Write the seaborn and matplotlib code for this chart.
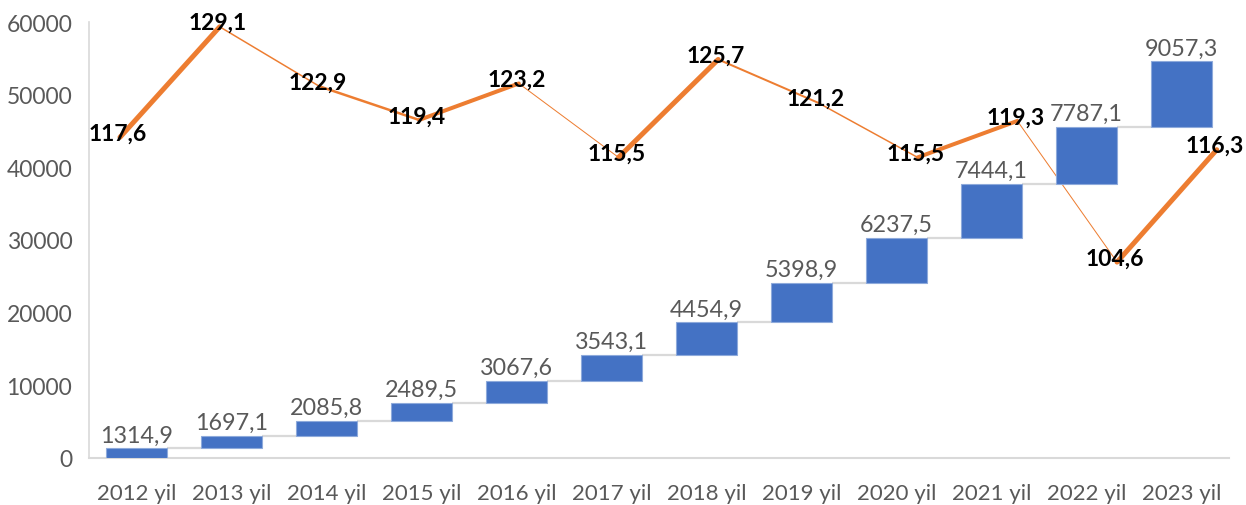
import matplotlib
matplotlib.use("Agg")
import matplotlib.pyplot as plt
import numpy as np
import seaborn as sns

# data
years = ["2012 yil", "2013 yil", "2014 yil", "2015 yil", "2016 yil", "2017 yil",
         "2018 yil", "2019 yil", "2020 yil", "2021 yil", "2022 yil", "2023 yil"]
increments = [1314.9, 1697.1, 2085.8, 2489.5, 3067.6, 3543.1,
              4454.9, 5398.9, 6237.5, 7444.1, 7787.1, 9057.3]
index_vals = [117.6, 129.1, 122.9, 119.4, 123.2, 115.5,
              125.7, 121.2, 115.5, 119.3, 104.6, 116.3]

sns.set_theme(style="white")
plt.rcParams["font.family"] = ["Lato", "DejaVu Sans"]

BLUE = "#4472C4"
ORANGE = "#ED7D31"
GREY = "#595959"

fig = plt.figure(figsize=(12.46, 5.06), dpi=100)
rect = [89 / 1246, 47 / 506, 1140 / 1246, 436 / 506]

# line sits on its own (hidden) secondary axes, behind the bars
ax2 = fig.add_axes(rect, frameon=False)
ax = fig.add_axes(rect)
ax.set_zorder(2)
ax2.set_zorder(1)
ax.patch.set_visible(False)

# waterfall bars
cum = np.cumsum(increments)
bottoms = cum - np.array(increments)
xs = np.arange(len(years))
bw = 0.65
ax.bar(xs, increments, bottom=bottoms, width=bw, color=BLUE,
       edgecolor="#8EAADB", linewidth=0.8, zorder=3)
# connectors
ax.hlines(cum[:-1], xs[:-1] + bw / 2, xs[1:] - bw / 2, color="#D9D9D9",
          linewidth=1.6, zorder=2)
for x, top, v in zip(xs, cum, increments):
    ax.annotate(f"{v:.1f}".replace(".", ","), (x, top), xytext=(0, 5),
                textcoords="offset points", ha="center", va="baseline",
                fontsize=16.8, color=GREY, zorder=4)

ax.set_xlim(-0.5, len(years) - 0.5)
ax.set_ylim(0, 60000)
ax.set_yticks(range(0, 60001, 10000))
ax.set_xticks(xs)
ax.set_xticklabels(years)
ax.tick_params(axis="x", length=0, pad=18, labelsize=16, labelcolor=GREY)
ax.tick_params(axis="y", length=0, pad=12, labelsize=16.5, labelcolor=GREY)
for side in ["top", "right"]:
    ax.spines[side].set_visible(False)
ax.spines["left"].set_color("#D9D9D9")
ax.spines["bottom"].set_color("#D9D9D9")
ax.spines["left"].set_linewidth(1.2)
ax.spines["bottom"].set_linewidth(1.5)
ax.grid(False)

# price index line: thick when rising, thin when falling
seg_px = [5, 1.5, 2.5, 4, 1, 5, 2, 1.5, 4, 1, 5]
for i in range(len(index_vals) - 1):
    sns.lineplot(x=[i, i + 1], y=[index_vals[i], index_vals[i + 1]], ax=ax2,
                 color=ORANGE, linewidth=seg_px[i] * 0.72,
                 solid_capstyle="round")
for i, v in enumerate(index_vals):
    ax2.annotate(f"{v:.1f}".replace(".", ","), (i, v), xytext=(-1.5, 3),
                 textcoords="offset points", ha="center", va="center",
                 fontsize=16.5, fontweight="bold", color="black", zorder=5)
ax2.set_xlim(-0.311, 11.123)
ax2.set_ylim(84.2, 129.6)
ax2.set_xticks([])
ax2.set_yticks([])
ax2.set_xlabel("")
ax2.set_ylabel("")
ax2.grid(False)

fig.savefig("out.png", dpi=100)
